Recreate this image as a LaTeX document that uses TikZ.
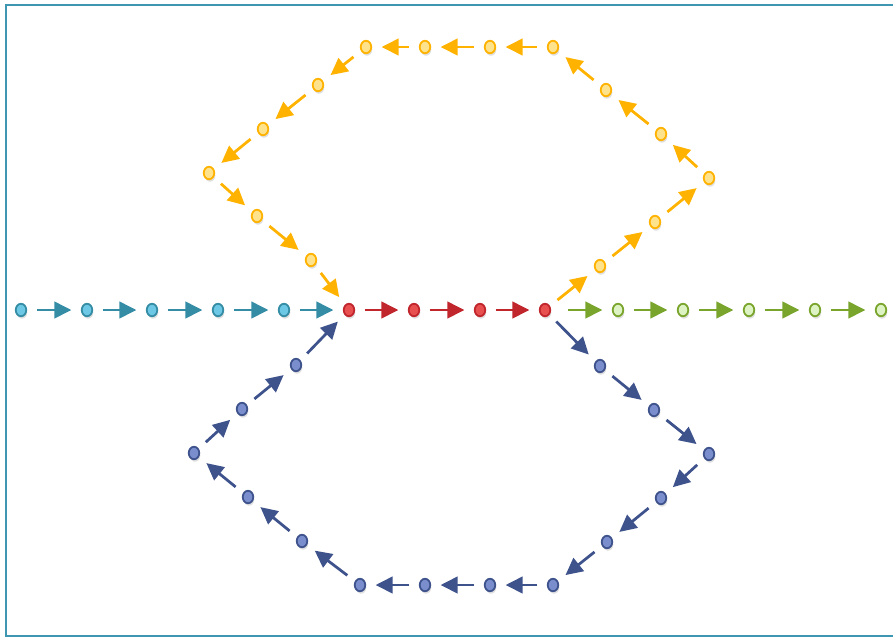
\documentclass[tikz,border=0pt]{standalone}
\usepackage{tikz}
\usepackage{xcolor}
\usetikzlibrary{arrows.meta,shapes.geometric,shadows}
\definecolor{framecol}{RGB}{62,150,176}
\definecolor{cyanfill}{RGB}{108,200,228}
\definecolor{cyanline}{RGB}{52,140,165}
\definecolor{redfill}{RGB}{232,80,80}
\definecolor{redline}{RGB}{192,38,44}
\definecolor{greenfill}{RGB}{222,243,196}
\definecolor{greenline}{RGB}{122,165,44}
\definecolor{orangefill}{RGB}{255,226,140}
\definecolor{orangeline}{RGB}{255,178,0}
\definecolor{bluefill}{RGB}{122,142,206}
\definecolor{blueline}{RGB}{62,82,140}

\begin{document}
\begin{tikzpicture}[x=0.02cm, y=-0.02cm]
  \tikzset{
    dot/.style={ellipse, draw, line width=1pt, minimum width=0.21cm, minimum height=0.25cm, inner sep=0pt,
      drop shadow={shadow xshift=0.6pt, shadow yshift=-1.4pt, opacity=0.25}},
    arr/.style={line width=0.055cm, -{Triangle[length=0.34cm, width=0.33cm]}, shorten <=0.19cm, shorten >=0.19cm}
  }
  \useasboundingbox (0,0) rectangle (893,637);

  % frame
  \draw[framecol, line width=1.6pt] (6,5) rectangle (900,636);

  % main row
  \foreach \i/\x in {1/21,2/87,3/152,4/218,5/284}
    \node[dot, draw=cyanline, fill=cyanfill] (c\i) at (\x,310) {};
  \foreach \i/\x in {1/349,2/414,3/480,4/545}
    \node[dot, draw=redline, fill=redfill] (r\i) at (\x,310) {};
  \foreach \i/\x in {1/618,2/683,3/749,4/815,5/881}
    \node[dot, draw=greenline, fill=greenfill] (g\i) at (\x,310) {};

  \foreach \a/\b in {c1/c2,c2/c3,c3/c4,c4/c5,c5/r1}
    \draw[arr, cyanline] (\a) -- (\b);
  \foreach \a/\b in {r1/r2,r2/r3,r3/r4}
    \draw[arr, redline] (\a) -- (\b);
  \draw[arr, greenline, shorten <=0.34cm] (r4) -- (g1);
  \foreach \a/\b in {g1/g2,g2/g3,g3/g4,g4/g5}
    \draw[arr, greenline] (\a) -- (\b);

  % upper loop
  \foreach \i/\x/\y in {1/600/266,2/655/222,3/709/178,4/661/134,5/606/90,6/553/47,7/490/47,
                        8/425/47,9/366/47,10/318/85,11/263/129,12/209/173,13/257/216,14/311/260}
    \node[dot, draw=orangeline, fill=orangefill] (o\i) at (\x,\y) {};
  \foreach \a/\b in {r4/o1,o1/o2,o2/o3,o3/o4,o4/o5,o5/o6,o6/o7,o7/o8,o8/o9,
                     o9/o10,o10/o11,o11/o12,o12/o13,o13/o14,o14/r1}
    \draw[arr, orangeline] (\a) -- (\b);

  % lower loop
  \foreach \i/\x/\y in {1/600/366,2/654/410,3/709/454,4/661/498,5/607/542,6/553/585,7/490/585,
                        8/425/585,9/360/585,10/302/541,11/248/497,12/194/453,13/242/409,14/296/365}
    \node[dot, draw=blueline, fill=bluefill] (b\i) at (\x,\y) {};
  \foreach \a/\b in {r4/b1,b1/b2,b2/b3,b3/b4,b4/b5,b5/b6,b6/b7,b7/b8,b8/b9,
                     b9/b10,b10/b11,b11/b12,b12/b13,b13/b14,b14/r1}
    \draw[arr, blueline] (\a) -- (\b);
\end{tikzpicture}
\end{document}
